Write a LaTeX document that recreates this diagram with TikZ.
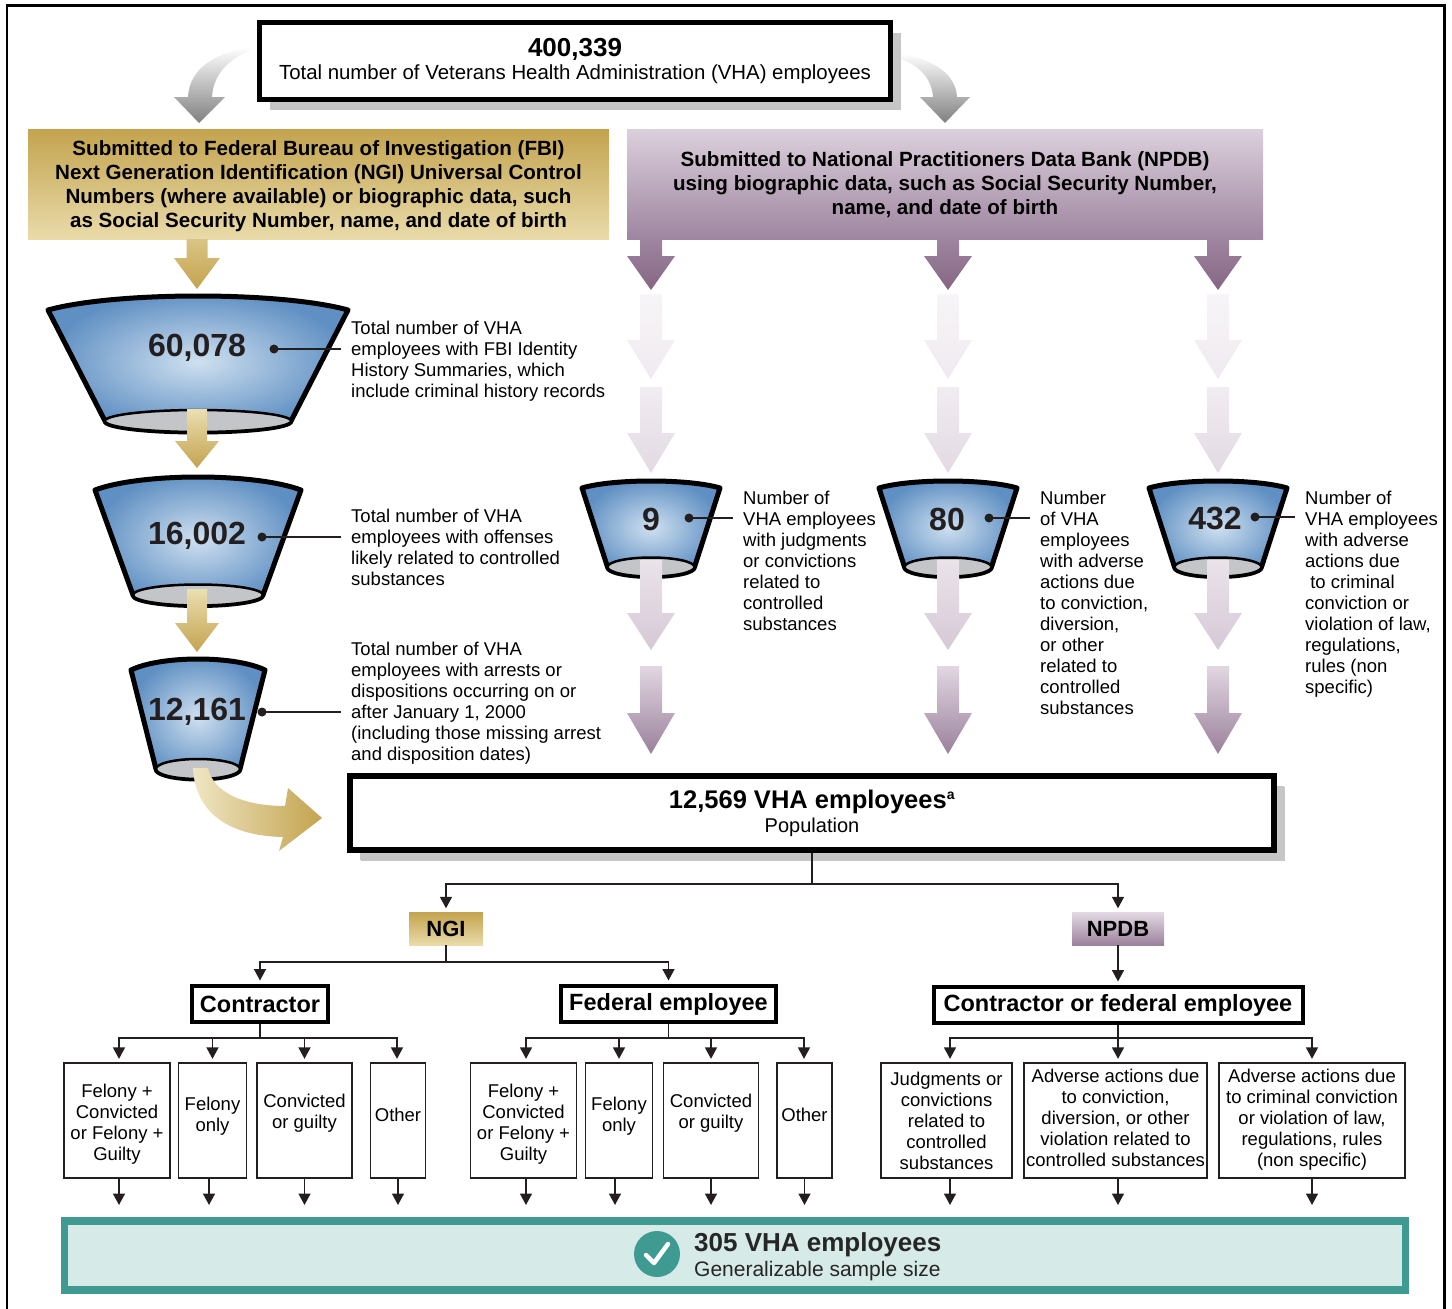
\documentclass[tikz,border=0pt]{standalone}
\usepackage{fontspec}
\setmainfont{Liberation Sans}
\usetikzlibrary{arrows.meta,shadows,calc}

\definecolor{goldD}{HTML}{C3A34E}
\definecolor{goldL}{HTML}{E9DBAA}
\definecolor{purD}{HTML}{9E85A0}
\definecolor{purL}{HTML}{DCD0DC}
\definecolor{purA}{HTML}{856683}
\definecolor{cupD}{HTML}{6090C3}
\definecolor{cupL}{HTML}{CFE0F0}
\definecolor{cupG}{HTML}{C4C5C8}
\definecolor{tealD}{HTML}{3F9A92}
\definecolor{tealL}{HTML}{D6EAE7}
\definecolor{shadowG}{HTML}{C6C6C6}
\definecolor{txt}{HTML}{231F20}

\newcommand{\fs}[2]{\fontsize{#1}{#2}\selectfont}
\newcommand{\up}[2]{\raisebox{#1}[\height][\depth]{\begin{tabular}{@{}c@{}}#2\end{tabular}}}

% down arrow shape: cx, ytop, yhead, ytip, half shaft, half head, shading
\newcommand{\dnarrow}[7]{%
  \shade[#7] ({#1-#5},#2) -- ({#1+#5},#2) -- ({#1+#5},#3) -- ({#1+#6},#3)
    -- (#1,#4) -- ({#1-#6},#3) -- ({#1-#5},#3) -- cycle;}

% cup: cx, ytop, ypeak, half top width, ybottom, half bottom width, ry
\newcommand{\mycup}[7]{%
  \shadedraw[inner color=cupL, outer color=cupD, draw=black, line width=5, line join=round]
    ({#1-#4},#2) .. controls ({#1-0.55*#4},{#2+(#3-#2)/0.75}) and ({#1+0.55*#4},{#2+(#3-#2)/0.75}) .. ({#1+#4},#2)
    -- ({#1+#6},#5) .. controls ({#1+#6},{#5+0.552*#7}) and ({#1+0.552*#6},{#5+#7}) .. (#1,{#5+#7})
    .. controls ({#1-0.552*#6},{#5+#7}) and ({#1-#6},{#5+0.552*#7}) .. ({#1-#6},#5) -- cycle;
  \draw[fill=cupG, line width=2.5] (#1,#5) ellipse [x radius=#6, y radius=#7];}

\tikzset{
  conn/.style={line width=1.6, draw=txt},
  arr/.style={conn, -{Triangle[length=11.5pt,width=12pt]}, shorten >=3.5pt},
  leaf/.style={draw=txt, line width=1.3, minimum height=115, inner sep=0, align=center, font=\fs{18.5}{21}},
  catbox/.style={draw=black, line width=4, minimum height=36, inner sep=0, font=\bfseries\fs{23.5}{26}},
  bigbox/.style={draw=black, fill=white, inner sep=0, align=center,
     drop shadow={shadow xshift=10.5pt, shadow yshift=-10.5pt, fill=shadowG, opacity=1}},
  side/.style={anchor=west, align=left, inner sep=0, font=\fs{18.5}{21}},
  num/.style={font=\bfseries\fs{32}{34}, inner sep=0, text=txt},
  leader/.style={line width=1.3, draw=txt, shorten >=10pt},
  ldot/.style={fill=txt},
  banner/.style={minimum height=110, inner sep=0, align=center, font=\bfseries\fs{20.6}{24}},
  tag/.style={minimum height=33, inner sep=0, font=\bfseries\fs{22}{24}},
}

\begin{document}
\begin{tikzpicture}[x=1pt,y=-1pt]
\useasboundingbox (0,0) rectangle (1452,1309);
% outer frame
\draw[line width=2.5] (7.2,1340) -- (7.2,5.7) -- (1444.5,5.7) -- (1444.5,1340);

% gray curved arrows
\shade[top color=white, bottom color=black!50]
  (250,47) .. controls (205,55) and (189,75) .. (188,97) -- (174,97) -- (199,123)
  -- (225,97) -- (212,97) .. controls (213,78) and (225,60) .. (250,51) -- cycle;
\shade[top color=white, bottom color=black!50]
  (893,53) .. controls (935,58) and (956,75) .. (957,97) -- (970,97) -- (945,123)
  -- (920,97) -- (933,97) .. controls (932,80) and (920,63) .. (893,57) -- cycle;

% top box
\node[bigbox, line width=5, minimum width=631, minimum height=77] (top) at (575,61)
  {\up{0pt}{\bfseries\fs{26}{26}400,339\\[5pt]\mdseries\fs{20.4}{24}Total number of Veterans Health Administration (VHA) employees}};

% banners
\node[banner, top color=goldD, bottom color=goldL, minimum width=581] (fbi) at (318.5,184)
  {\up{-2.5pt}{Submitted to Federal Bureau of Investigation (FBI)\\Next Generation Identification (NGI) Universal Control\\Numbers (where available) or biographic data, such\\as Social Security Number, name, and date of birth}};
\node[banner, top color=purL, bottom color=purD, minimum width=636] (npdbbox) at (945,184)
  {\up{-1.5pt}{Submitted to National Practitioners Data Bank (NPDB)\\using biographic data, such as Social Security Number,\\name, and date of birth}};

% gold arrow from FBI box
\dnarrow{197}{239}{258}{289}{10.5}{23}{top color=goldL!60!goldD, bottom color=goldD}

% purple columns
\foreach \cx in {651,948,1218}{
  \dnarrow{\cx}{239}{256}{290}{11}{24}{top color=purD, bottom color=purA}
  \dnarrow{\cx}{294}{340}{379}{11}{24}{top color=purL!22!white, bottom color=purL!45!white}
  \dnarrow{\cx}{387}{433}{473}{11}{24}{top color=purL!40!white, bottom color=purL!80!white}
}

% left funnels
\mycup{198}{310}{296}{150}{421}{93}{11}
\mycup{198}{490}{477}{103}{595}{65}{10.5}
\mycup{198}{670}{659}{67}{769}{42}{10}
% right cups
\mycup{651}{488}{481}{69}{567}{43.5}{9.5}
\mycup{948}{488}{481}{69}{567}{43.5}{9.5}
\mycup{1218}{488}{481}{69}{567}{43.5}{9.5}

% gold arrows between funnels
\dnarrow{197}{409}{441}{468}{10}{22}{top color=goldL!90!white, bottom color=goldD}
\dnarrow{197}{589}{623}{652}{10}{22}{top color=goldL!90!white, bottom color=goldD}

% purple lower segments
\foreach \cx in {651,948,1218}{
  \dnarrow{\cx}{560}{613}{650}{11}{24}{top color=purL!60!white, bottom color=purL!90!purD}
  \dnarrow{\cx}{666}{713}{754}{11}{24}{top color=purL!85!white, bottom color=purD!85!purA}
}

% curved gold arrow
\shade[left color=goldL!70!white, right color=goldD]
  (193,768) .. controls (195,812) and (228,836) .. (283,837) -- (279,851) -- (322,818)
  -- (288,788) -- (285,806) .. controls (243,806) and (213,792) .. (208,768) -- cycle;

% numbers
\node[num] (n1) at (197,348) {60,078};
\node[num] (n2) at (197,536) {16,002};
\node[num] (n3) at (197,712) {12,161};
\node[num] (n4) at (651,519) {9};
\node[num] (n5) at (947,519) {80};
\node[num] (n6) at (1215,519) {432};

% side texts
\node[side] (t1) at (351,361.5) {Total number of VHA\\employees with FBI Identity\\History Summaries, which\\include criminal history records};
\node[side] (t2) at (351,547) {Total number of VHA\\employees with offenses\\likely related to controlled\\substances};
\node[side] (t3) at (351,703.5) {Total number of VHA\\employees with arrests or\\dispositions occurring on or\\after January 1, 2000\\(including those missing arrest\\and disposition dates)};
\node[side] (t4) at (743,561) {Number of\\VHA employees\\with judgments\\or convictions\\related to\\controlled\\substances};
\node[side] (t5) at (1040,603) {Number\\of VHA\\employees\\with adverse\\actions due\\to conviction,\\diversion,\\or other\\related to\\controlled\\substances};
\node[side] (t6) at (1305,594.5) {Number of\\VHA employees\\with adverse\\actions due\\\ to criminal\\conviction or\\violation of law,\\regulations,\\rules (non\\specific)};

% leaders
\coordinate (d1) at (274,349);
\coordinate (d2) at (262,537);
\coordinate (d3) at (262,712);
\coordinate (d4) at (689,518);
\coordinate (d5) at (989,518);
\coordinate (d6) at (1255,517);
\foreach \d/\t in {d1/t1,d2/t2,d3/t3,d4/t4,d5/t5,d6/t6}{
  \fill[ldot] (\d) circle [radius=4.5];
  \draw[leader] (\d) -- (\d -| \t.west);
}

% population box
\node[bigbox, line width=6, minimum width=924, minimum height=74, drop shadow={shadow xshift=10pt, shadow yshift=-10pt, fill=shadowG, opacity=1}] (pop) at (812,813)
  {\bfseries\fs{25.5}{26}12,569 VHA employees\textsuperscript{\fs{14}{14}a}\\[3pt]\mdseries\fs{20}{24}Population};

% tags
\node[tag, top color=goldD, bottom color=goldL, minimum width=74] (ngi) at (446,928.5) {NGI};
\node[tag, top color=purL!80!white, bottom color=purD!90!purA, minimum width=92] (npdb) at (1118,928.5) {NPDB};

\coordinate (j1) at (812,884);
\draw[conn] (pop.south) -- (j1);
\draw[arr] (j1) -| (ngi.north);
\draw[arr] (j1) -| (npdb.north);

% category boxes
\node[catbox, minimum width=136] (contr) at (260,1004) {Contractor};
\node[catbox, minimum width=215] (fed) at (668.5,1004) {Federal employee};
\node[catbox, minimum width=369] (cfe) at (1118,1005) {Contractor or federal employee};

\coordinate (j2) at (446,962);
\draw[conn] (ngi.south) -- (j2);
\draw[arr] (j2) -| (contr.north);
\draw[arr] (j2) -| (fed.north);
\draw[arr] (npdb.south) -- (cfe.north);

% leaves
\node[leaf, minimum width=106] (c1) at (117,1120.5) {\up{-4pt}{Felony +\\Convicted\\or Felony +\\Guilty}};
\node[leaf, minimum width=68] (c2) at (212.5,1120.5) {\up{4pt}{Felony\\only}};
\node[leaf, minimum width=95] (c3) at (304.5,1120.5) {\up{7pt}{Convicted\\or guilty}};
\node[leaf, minimum width=55] (c4) at (398,1120.5) {\up{3pt}{Other}};
\node[leaf, minimum width=106] (f1) at (523.5,1120.5) {\up{-4pt}{Felony +\\Convicted\\or Felony +\\Guilty}};
\node[leaf, minimum width=67] (f2) at (619,1120.5) {\up{4pt}{Felony\\only}};
\node[leaf, minimum width=95] (f3) at (711,1120.5) {\up{7pt}{Convicted\\or guilty}};
\node[leaf, minimum width=55] (f4) at (804.5,1120.5) {\up{3pt}{Other}};
\node[leaf, minimum width=131] (l1) at (946.5,1120.5) {Judgments or\\convictions\\related to\\controlled\\substances};
\node[leaf, minimum width=183] (l2) at (1115.5,1120.5) {\up{0pt}{Adverse actions due\\to conviction,\\diversion, or other\\violation related to\\controlled substances}};
\node[leaf, minimum width=186] (l3) at (1312,1120.5) {\up{0pt}{Adverse actions due\\to criminal conviction\\or violation of law,\\regulations, rules\\(non specific)}};

\coordinate (jc) at (260,1038);
\coordinate (jf) at (668.5,1038);
\coordinate (jn) at (1118,1038);
\draw[conn] (contr.south) -- (jc);
\draw[conn] (fed.south) -- (jf);
\draw[conn] (cfe.south) -- (jn);
\foreach \l/\dx in {c1/2,c2/0,c3/0,c4/-1}{\draw[arr] (jc) -| ([xshift=\dx]\l.north);}
\foreach \l/\dx in {f1/2.5,f2/0,f3/0,f4/-0.5}{\draw[arr] (jf) -| ([xshift=\dx]\l.north);}
\foreach \l/\dx in {l1/3.5,l2/2.5,l3/0}{\draw[arr] (jn) -| ([xshift=\dx]\l.north);}

% bottom box
\node[draw=tealD, fill=tealL, line width=7.5, minimum width=1341, minimum height=69, inner sep=0] (teal) at (735,1255.5) {};
\coordinate (bot) at (0,1205);
\foreach \l/\dx in {c1/2,c2/-3.5,c3/0,c4/0,f1/2.5,f2/-4,f3/0,f4/0,l1/3.5,l2/2.5,l3/0}{
  \draw[arr, shorten >=0pt] ([xshift=\dx]\l.south) -- ([xshift=\dx]\l.south |- bot);}

\node[circle, fill=tealD, minimum size=46, inner sep=0] (chk) at (657,1254) {};
\draw[white, line width=4.5, line cap=round, line join=round] ([shift={(-11,1)}]chk.center) -- ([shift={(-3,9)}]chk.center) -- ([shift={(11,-10)}]chk.center);
\node[anchor=west, align=left, inner sep=0, text=black!85] (res) at (694,1257)
  {\bfseries\fs{26}{26}305 VHA employees\\[3pt]\mdseries\fs{21}{24}Generalizable sample size};
\end{tikzpicture}
\end{document}
